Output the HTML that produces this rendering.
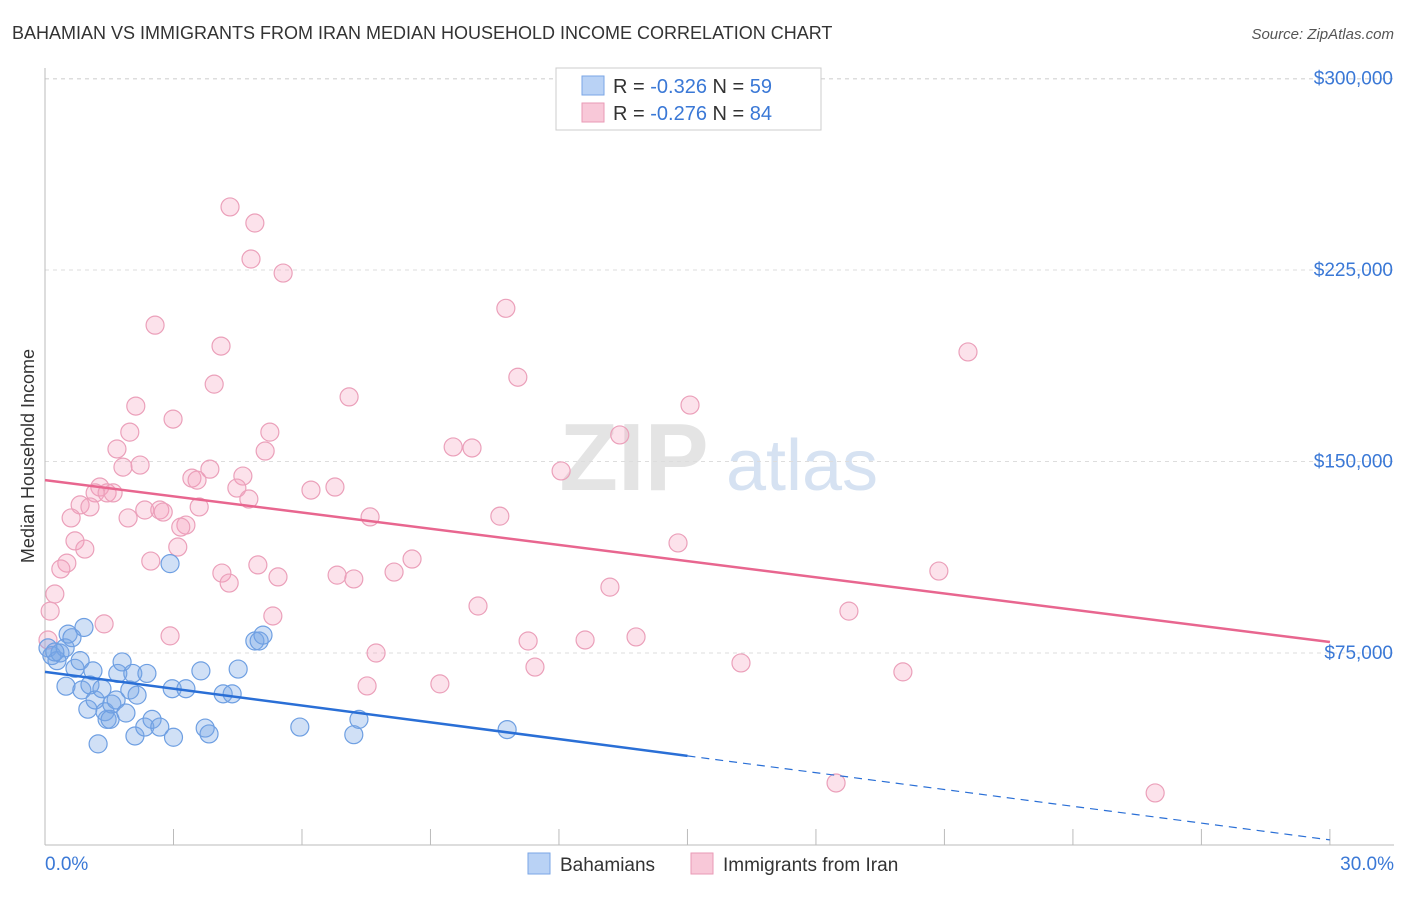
<!DOCTYPE html>
<html><head><meta charset="utf-8">
<style>
body{margin:0;background:#fff;font-family:"Liberation Sans",sans-serif;}
svg text{font-family:"Liberation Sans",sans-serif;}
</style></head>
<body>
<svg id="chart" width="1406" height="892" xmlns="http://www.w3.org/2000/svg">
  <text x="12" y="39" font-size="18" fill="#333">BAHAMIAN VS IMMIGRANTS FROM IRAN MEDIAN HOUSEHOLD INCOME CORRELATION CHART</text>
  <text x="1394" y="39" font-size="15" fill="#555" text-anchor="end" font-style="italic">Source: ZipAtlas.com</text>
  <text x="34" y="456" font-size="18" fill="#333" text-anchor="middle" transform="rotate(-90 34 456)">Median Household Income</text>
  <g>
    <text x="634" y="490" font-size="96" fill="#e4e4e4" text-anchor="middle" font-family="Liberation Serif" font-weight="bold">ZIP</text>
    <text x="802" y="490" font-size="72" fill="#d6e2f2" text-anchor="middle">atlas</text>
  </g>
  <g id="grid"></g>
  <g id="axes"></g>
  <g id="points"></g>
  <g id="trends"></g>
  <g>
    <rect x="556" y="68" width="265" height="62" fill="#fff" stroke="#ccc"/>
    <rect x="582" y="76" width="22" height="19" fill="#b9d2f5" stroke="#7aa6e6"/>
    <text x="613" y="93" font-size="20" fill="#333">R = <tspan fill="#3a78d6">-0.326</tspan>   N = <tspan fill="#3a78d6">59</tspan></text>
    <rect x="582" y="103" width="22" height="19" fill="#f8c8d8" stroke="#e99ab6"/>
    <text x="613" y="120" font-size="20" fill="#333">R = <tspan fill="#3a78d6">-0.276</tspan>   N = <tspan fill="#3a78d6">84</tspan></text>
  </g>
  <g>
    <rect x="528" y="853" width="22" height="21" fill="#b9d2f5" stroke="#7aa6e6"/>
    <text x="560" y="871" font-size="19" fill="#333">Bahamians</text>
    <rect x="691" y="853" width="22" height="21" fill="#f8c8d8" stroke="#e99ab6"/>
    <text x="723" y="871" font-size="19" fill="#333">Immigrants from Iran</text>
  </g>
</svg>
<script>
const yTicks=[75000,150000,225000,300000];
const yTickLabels=["$75,000","$150,000","$225,000","$300,000"];
const xTickLabels=["0.0%","30.0%"];
const blueX=[0.07,0.16,0.28,0.35,0.47,0.54,0.63,0.49,0.7,0.82,0.91,0.86,1,1.05,1.12,1.17,1.24,1.33,1.4,1.45,1.52,1.56,1.66,1.7,1.8,1.89,1.98,2.05,2.15,2.1,2.33,2.38,2.5,2.68,2.92,2.97,3,3.29,3.64,3.74,3.83,4.16,4.37,4.51,4.9,5,5.09,5.95,7.21,7.33,10.79,0.23];
const blueY=[77,74,72,75,77,82.4,81,62,69,72,85,60.5,53,62.5,68,56.6,39.4,61,52,49,49,55,56.6,67,71.5,51.5,60.5,67,58.5,42.5,46,67,49,46,110,61,42,61,68,45.6,43.3,59,59,68.7,79.7,79.7,82,46,43,49,45,75.4];
const pinkX=[4.32,4.9,4.81,5.56,2.57,10.76,21.55,4.11,3.95,11.04,7.1,2.12,15.06,2.99,1.98,5.25,13.42,1.68,5.14,9.53,9.97,1.82,2.22,3.85,4.62,12.05,3.43,3.55,1.28,1.17,1.45,1.59,4.48,4.76,6.21,6.77,0.82,1.05,2.33,2.68,2.76,3.6,0.61,1.94,3.29,3.17,7.59,10.62,0.7,0.93,3.1,2.47,0.51,0.37,8.57,14.78,4.13,4.97,5.44,4.3,6.82,7.21,8.15,20.87,13.19,0.23,0.12,5.32,10.11,18.77,1.38,2.92,0.07,11.28,12.61,13.8,7.73,11.44,16.25,7.52,9.22,20.03,18.47,25.92];
const pinkY=[249.7,243.4,229.3,223.8,203.4,210,192.9,195.2,180.3,183,175.3,171.7,172.1,166.6,161.5,161.5,160.4,154.9,154.1,155.7,155.3,147.8,148.6,147,144.3,146.3,143.5,142.7,140,137.7,137.7,137.7,139.6,135.3,138.8,140,133,132.2,131,131,130.2,132.2,127.9,127.9,125.1,124.3,128.3,128.6,118.9,115.7,116.5,111,110.2,107.9,111.8,118.1,106.3,109.5,104.8,102.4,105.5,104,106.7,107.1,100.8,98.1,91.4,89.5,93.4,91.4,86.4,81.7,80.1,79.7,80.1,81.3,75,69.5,71.1,62.1,62.9,67.6,24.1,20.2];
const blueTrend=[67.6,1.8]; // at x=0 and x=30 (thousands)
const pinkTrend=[142.7,79.3];

const X=v=>45+v*42.83;
const Y=k=>653-(k*1000-75000)*191.5/75000;
const NS="http://www.w3.org/2000/svg";
function mk(tag,attrs,parent){const e=document.createElementNS(NS,tag);for(const k in attrs)e.setAttribute(k,attrs[k]);parent.appendChild(e);return e;}
const grid=document.getElementById('grid'),axes=document.getElementById('axes'),pts=document.getElementById('points'),tr=document.getElementById('trends');
let g=mk('line',{x1:45,x2:1394,y1:79,y2:79,stroke:'#ddd','stroke-dasharray':'4,4'},grid);


yTicks.forEach((t,i)=>{
  const y=Y(t/1000);
  const l=mk('line',{x1:45,x2:1394,y1:y,y2:y,stroke:'#ddd','stroke-dasharray':'4,4'},grid);
  
  
  const tx=mk('text',{x:1393,y:y-20+(i==3?0:0)+26,'font-size':19,fill:'#3a78d6','text-anchor':'end'},axes);
  tx.textContent=yTickLabels[i];
  
  
});
let ax=mk('line',{x1:45,x2:1394,y1:845,y2:845,stroke:'#bbb'},axes);


let ay=mk('line',{x1:45,x2:45,y1:68,y2:845,stroke:'#bbb'},axes);


for(let i=0;i<=10;i++){
  const x=X(i*3);
  const t=mk('line',{x1:x,x2:x,y1:829,y2:845,stroke:'#bbb'},axes);
  
  
}
[[0,'start',45],[1,'end',1394]].forEach(([i,a,x])=>{
  const t=mk('text',{x:x,y:870,'font-size':19,fill:'#3a78d6','text-anchor':a},axes);
  t.textContent=xTickLabels[i];
  
  
});
pinkX.forEach((v,i)=>{
  const c=mk('circle',{cx:X(v),cy:Y(pinkY[i]),r:9,fill:'rgba(244,160,188,0.3)',stroke:'#eba0ba','stroke-width':1.2},pts);
  
  
});
blueX.forEach((v,i)=>{
  const c=mk('circle',{cx:X(v),cy:Y(blueY[i]),r:9,fill:'rgba(120,165,230,0.35)',stroke:'#6e9fe2','stroke-width':1.2},pts);
  
  
});
const bAt=x=>blueTrend[0]+(blueTrend[1]-blueTrend[0])*x/30;
let bl=mk('line',{x1:X(0),y1:Y(bAt(0)),x2:X(15),y2:Y(bAt(15)),stroke:'#2a6fd6','stroke-width':2.5},tr);


let bd=mk('line',{x1:X(15),y1:Y(bAt(15)),x2:X(30),y2:Y(bAt(30)),stroke:'#2a6fd6','stroke-width':1.2,'stroke-dasharray':'8,6'},tr);


let pl=mk('line',{x1:X(0),y1:Y(pinkTrend[0]),x2:X(30),y2:Y(pinkTrend[1]),stroke:'#e8668f','stroke-width':2.5},tr);


</script>
</body></html>
